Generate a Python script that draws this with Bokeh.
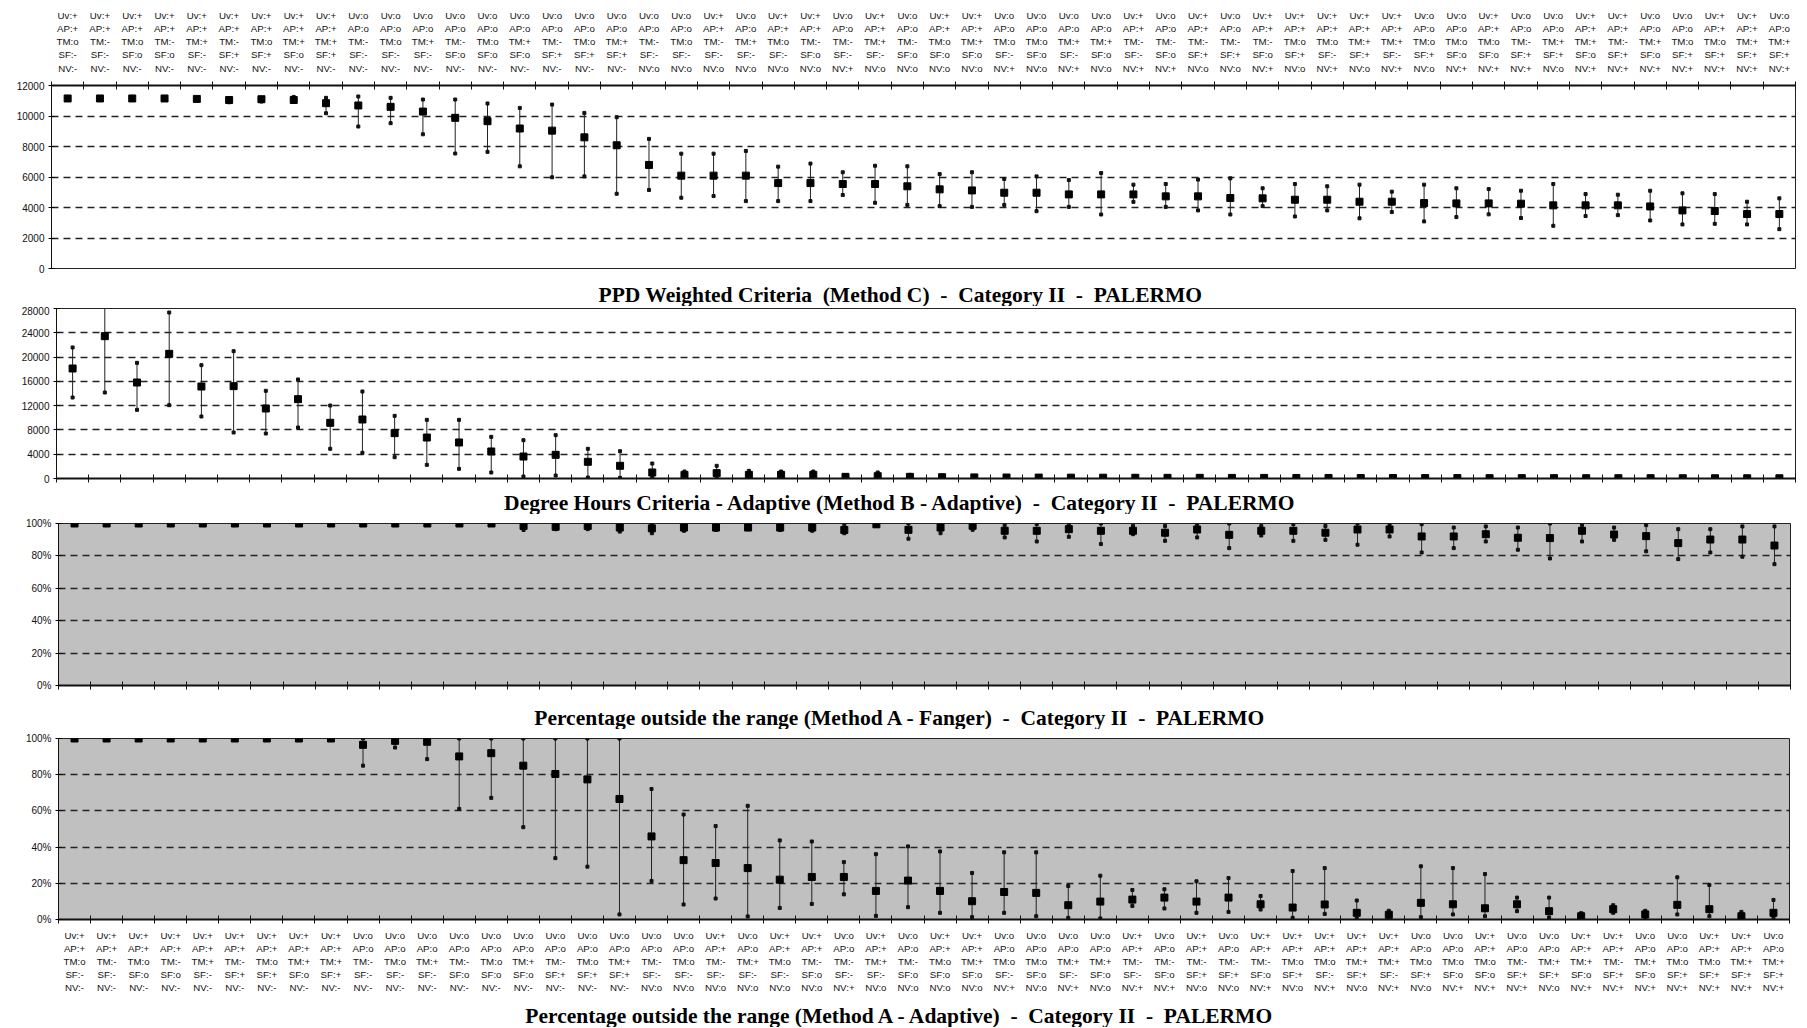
from bokeh.plotting import figure
from bokeh.models import Range1d, FixedTicker, PrintfTickFormatter
from bokeh.core.properties import value
from bokeh.embed import file_html
from bokeh.resources import INLINE

# ---------------- data ----------------
uv = ["+"] * 9 + ["o"] * 8 + ["o", "o", "o", "+", "o", "+", "+", "o", "+", "o", "+", "+", "o", "o", "o", "o", "+", "o", "+"] + \
     ["o", "+", "+", "+", "+", "+", "o", "o", "+", "o", "o", "+", "+", "o", "o", "+", "+", "o"]
ap = list(uv)
tm = ["o", "-", "o", "-", "+", "-", "o", "+", "+", "-", "o", "+", "-", "o", "+", "-", "o"] + \
     ["+", "-", "o", "-", "+", "o", "-", "-", "+", "-", "o", "+", "o", "o", "+", "+", "-", "-", "-"] + \
     ["-", "-", "o", "o", "+", "+", "o", "o", "o", "-", "+", "+", "-", "+", "o", "o", "+", "+"]
sf = ["-", "-", "o", "o", "-", "+", "+", "o", "+", "-", "-", "-", "o", "o", "o", "+", "+"] + \
     ["+", "-", "-", "-", "-", "-", "o", "-", "-", "o", "o", "o", "-", "o", "-", "o", "-", "o", "+"] + \
     ["+", "o", "+", "-", "+", "-", "+", "o", "o", "+", "+", "o", "+", "o", "+", "+", "+", "+"]
nv = ["-"] * 17 + \
     ["-", "o", "o", "o", "o", "o", "o", "+", "o", "o", "o", "o", "+", "o", "+", "o", "+", "+", "o"] + \
     ["o", "+", "o", "+", "o", "+", "o", "+", "+", "+", "o", "+", "+", "+", "+", "+", "+", "+"]

categories = ["Uv:%s\nAP:%s\nTM:%s\nSF:%s\nNV:%s" % t for t in zip(uv, ap, tm, sf, nv)]

# PPD Weighted Criteria (Method C)
p1_mean = [11150, 11150, 11150, 11150, 11120, 11050, 11100, 11050, 10840, 10690,
           10600, 10290, 9880, 9660, 9180, 9040, 8600, 8080, 6790, 6090,
           6090, 6090, 5600, 5600, 5540, 5540, 5390, 5190, 5120, 4970,
           4970, 4860, 4860, 4860, 4730, 4730, 4620, 4600, 4510, 4510,
           4380, 4380, 4290, 4270, 4270, 4250, 4140, 4140, 4140, 4070,
           3810, 3770, 3570, 3570]
p1_hi = [11200, 11200, 11200, 11200, 11150, 11150, 11180, 11250, 11190, 11280,
         11190, 11080, 11080, 10820, 10530, 10750, 10200, 9920, 8500, 7530,
         7530, 7710, 6680, 6880, 6310, 6740, 6700, 6190, 6310, 5870,
         6040, 5800, 6260, 5500, 5540, 5830, 5910, 5260, 5540, 5390,
         5500, 5040, 5500, 5260, 5210, 5100, 5540, 4880, 4840, 5100,
         4930, 4880, 4380, 4600]
p1_lo = [11100, 11100, 11100, 11100, 11080, 10900, 10950, 10950, 10180, 9310,
         9530, 8800, 7540, 7650, 6700, 5980, 6040, 4900, 5150, 4640,
         4750, 4420, 4420, 4420, 4820, 4310, 4170, 4090, 4040, 4170,
         3760, 4040, 3540, 4370, 4040, 3810, 3540, 4090, 3410, 3810,
         3290, 3700, 3090, 3370, 3550, 3310, 2800, 3440, 3500, 3150,
         2890, 2930, 2890, 2580]

# Degree Hours Criteria - Adaptive (Method B)
p2_mean = [18120, 23440, 15810, 20530, 15150, 15210, 11530, 13070, 9170, 9720,
           7470, 6750, 5930, 4450, 3620, 3900, 2750, 2090, 990, 600,
           880, 600, 600, 600, 270, 380, 270, 220, 180, 160,
           150, 140, 130, 120, 110, 110, 100, 100, 90, 90,
           80, 80, 70, 70, 60, 60, 60, 50, 50, 50,
           40, 40, 40, 40]
p2_hi = [21580, 28600, 19050, 27340, 18670, 20970, 14440, 16310, 12020, 14330,
         10320, 9660, 9660, 6860, 6310, 7140, 4890, 4500, 2470, 1150,
         2090, 1260, 1150, 1150, 440, 990, 600, 450, 400, 350,
         300, 300, 280, 260, 250, 240, 220, 220, 200, 200,
         180, 180, 160, 160, 150, 150, 140, 130, 130, 120,
         110, 110, 100, 100]
p2_lo = [13340, 14160, 11310, 12080, 10210, 7580, 7410, 8400, 4890, 4230,
         3510, 2250, 1590, 990, 330, 490, 160, 110, 330, 110,
         220, 110, 110, 110, 0, 100, 50, 40, 30, 30,
         20, 20, 20, 20, 10, 10, 10, 10, 10, 10,
         0, 0, 0, 0, 0, 0, 0, 0, 0, 0,
         0, 0, 0, 0]

# Percentage outside the range (Method A - Fanger)
p3_mean = [100, 100, 100, 100, 100, 100, 100, 100, 100, 100,
           100, 100, 100, 100, 98.5, 98.0, 98.5, 97.5, 97.0, 97.5,
           97.5, 97.5, 97.5, 97.5, 96.0, 99.5, 96.1, 97.5, 98.6, 95.5,
           95.5, 96.5, 95.5, 95.5, 94.3, 96.3, 93.0, 95.5, 95.5, 94.3,
           96.3, 96.3, 92.0, 92.0, 93.4, 91.2, 91.0, 95.5, 93.2, 92.2,
           87.9, 90.1, 90.1, 86.4]
p3_hi = [100, 100, 100, 100, 100, 100, 100, 100, 100, 100,
         100, 100, 100, 100, 100, 100, 100, 99.5, 100, 100,
         99.5, 100, 100, 99.5, 99.5, 100, 100, 99.6, 100, 99.0,
         99.6, 99.4, 100, 98.6, 98.4, 99.6, 100, 98.4, 99.6, 98.4,
         100, 99.4, 99.6, 97.5, 98.2, 97.5, 100, 99.0, 97.5, 99.0,
         96.5, 96.5, 98.2, 98.2]
p3_lo = [99.6, 99.6, 99.6, 99.6, 99.6, 99.6, 99.6, 99.6, 99.6, 99.6,
         99.6, 99.6, 99.6, 99.6, 96.0, 96.5, 96.5, 95.0, 94.0, 95.5,
         96.0, 96.5, 96.0, 95.5, 94.0, 98.5, 90.6, 94.0, 96.1, 91.4,
         88.9, 91.8, 87.3, 93.4, 89.3, 91.4, 84.8, 92.6, 89.3, 89.9,
         86.9, 92.0, 82.1, 84.8, 88.9, 83.8, 78.4, 88.9, 89.9, 82.8,
         78.0, 82.1, 79.5, 74.9]

# Percentage outside the range (Method A - Adaptive)
p4_mean = [100, 100, 100, 100, 100, 100, 100, 100, 100, 96.5,
           98.7, 98.2, 90.1, 91.9, 85.0, 80.4, 77.4, 66.6, 45.9, 32.8,
           31.2, 28.4, 22.0, 23.5, 23.5, 15.8, 21.5, 15.8, 10.1, 15.2,
           14.7, 7.9, 9.9, 11.0, 12.1, 9.9, 12.1, 8.4, 6.6, 8.3,
           3.7, 2.6, 9.2, 8.4, 6.2, 8.4, 4.6, 1.8, 5.7, 2.8,
           8.1, 5.7, 1.8, 3.7]
p4_hi = [100, 100, 100, 100, 100, 100, 100, 100, 100, 100,
         100, 100, 100, 100, 100, 100, 100, 100, 72.1, 58.0,
         51.6, 62.8, 43.7, 43.1, 31.7, 36.1, 40.4, 37.6, 25.7, 37.1,
         37.1, 18.5, 24.2, 16.3, 16.7, 21.1, 22.9, 13.0, 26.8, 28.4,
         10.5, 4.8, 29.4, 28.4, 25.1, 12.1, 12.1, 3.5, 7.9, 4.8,
         23.3, 19.1, 4.2, 10.8]
p4_lo = [99.5, 99.5, 99.5, 99.5, 99.5, 99.5, 99.5, 99.5, 99.5, 85.0,
         95.0, 88.6, 61.1, 67.2, 51.0, 33.9, 29.2, 2.8, 21.3, 8.3,
         11.6, 1.7, 6.4, 8.6, 13.9, 2.0, 6.8, 3.7, 1.3, 3.7,
         1.8, 0.9, 0.6, 7.5, 6.1, 3.7, 4.2, 5.5, 0.9, 3.1,
         0.6, 1.3, 1.3, 2.8, 1.8, 4.6, 1.1, 0.3, 3.7, 0.5,
         2.8, 1.8, 0.3, 0.9]

SP2 = "\u00a0 "  # a double space that SVG will not collapse
titles = [
    "PPD Weighted Criteria" + SP2 + "(Method C)" + SP2 + "-" + SP2 + "Category II" + SP2 + "-" + SP2 + "PALERMO",
    "Degree Hours Criteria - Adaptive (Method B - Adaptive)" + SP2 + "-" + SP2 + "Category II" + SP2 + "-" + SP2 + "PALERMO",
    "Percentage outside the range (Method A - Fanger)" + SP2 + "-" + SP2 + "Category II" + SP2 + "-" + SP2 + "PALERMO",
    "Percentage outside the range (Method A - Adaptive)" + SP2 + "-" + SP2 + "Category II" + SP2 + "-" + SP2 + "PALERMO",
]

# ---------------- styling ----------------
W = 1807
N = len(categories)
xs = list(range(1, N + 1))
LABEL_FONT = "Liberation Sans"
TITLE_FONT = "Liberation Serif"
half_ticks = [i + 0.5 for i in range(0, N + 1)]


def make_panel(mean, lo, hi, ymax, ystep, pct, gray, height, b_top, b_bottom, b_left, b_right,
               axis_pos, show_labels, standoff=8):
    p = figure(width=W, height=height, output_backend="svg", toolbar_location=None,
               x_range=Range1d(0.5, N + 0.5), y_range=Range1d(0, ymax),
               x_axis_location=axis_pos, min_border_top=b_top, min_border_bottom=b_bottom,
               min_border_left=b_left, min_border_right=b_right)
    p.background_fill_color = "#c0c0c0" if gray else "white"
    p.border_fill_color = "white"
    p.outline_line_color = "#222222"
    p.outline_line_width = 1

    yt = list(range(0, int(ymax) + 1, ystep))
    p.yaxis.ticker = FixedTicker(ticks=yt)
    if pct:
        p.yaxis.formatter = PrintfTickFormatter(format="%d%%")
    p.yaxis.major_tick_in = 3
    p.yaxis.major_tick_out = 3
    p.yaxis.minor_tick_line_color = None
    p.yaxis.axis_line_color = "#111111"
    p.yaxis.major_label_text_font = LABEL_FONT
    p.yaxis.major_label_text_font_size = "10px"
    p.yaxis.major_label_text_color = "#111111"
    p.yaxis.major_label_standoff = 4

    p.ygrid.ticker = FixedTicker(ticks=yt[1:-1])
    p.ygrid.grid_line_color = "#222222"
    p.ygrid.grid_line_dash = "7 5"
    p.ygrid.grid_line_width = 1.3
    p.xgrid.visible = False

    ax = p.xaxis[0]
    if show_labels:
        ax.ticker = FixedTicker(ticks=xs, minor_ticks=half_ticks)
        ax.major_label_overrides = {x: c for x, c in zip(xs, categories)}
        ax.major_label_text_font = LABEL_FONT
        ax.major_label_text_font_size = "9.7px"
        ax.major_label_text_color = "#111111"
        ax.major_label_standoff = standoff
    else:
        ax.ticker = FixedTicker(ticks=[], minor_ticks=half_ticks)
    ax.major_tick_line_color = None
    ax.major_tick_out = 0
    ax.major_tick_in = 0
    ax.minor_tick_in = 4
    ax.minor_tick_out = 4
    ax.minor_tick_line_color = "#111111"
    ax.axis_line_color = "#111111"
    ax.axis_line_width = 2

    p.segment(x0=xs, y0=lo, x1=xs, y1=hi, line_color="#222222", line_width=1)
    p.scatter(x=xs + xs, y=lo + hi, marker="square", size=3, color="#111111")
    p.scatter(x=xs, y=mean, marker="square", size=7, color="black")
    return p


def title_fig(text, height):
    t = figure(width=W, height=height, output_backend="svg", toolbar_location=None,
               x_range=Range1d(0, W), y_range=Range1d(0, 1),
               x_axis_type=None, y_axis_type=None, min_border=0)
    t.outline_line_color = None
    t.grid.visible = False
    t.text(x=[900], y=[0.5], text=[text], text_align="center", text_baseline="middle",
           text_font=value(TITLE_FONT), text_font_style="bold", text_font_size="21.5px",
           text_color="black")
    return t


f1 = make_panel(p1_mean, p1_lo, p1_hi, 12000, 2000, False, False, 282, 85, 14, 51, 12, "above", True, 8)
t1 = title_fig(titles[0], 24)
f2 = make_panel(p2_mean, p2_lo, p2_hi, 28000, 4000, False, False, 184, 2, 12, 56, 12, "below", False)
t2 = title_fig(titles[1], 24)
f3 = make_panel(p3_mean, p3_lo, p3_hi, 100, 20, True, True, 191, 9, 20, 58, 17, "below", False)
t3 = title_fig(titles[2], 24)
f4 = make_panel(p4_mean, p4_lo, p4_hi, 100, 20, True, True, 275, 9, 85, 58, 18, "below", True, 6)
t4 = title_fig(titles[3], 23)

open("out.html", "w").write(file_html([f1, t1, f2, t2, f3, t3, f4, t4], INLINE))
